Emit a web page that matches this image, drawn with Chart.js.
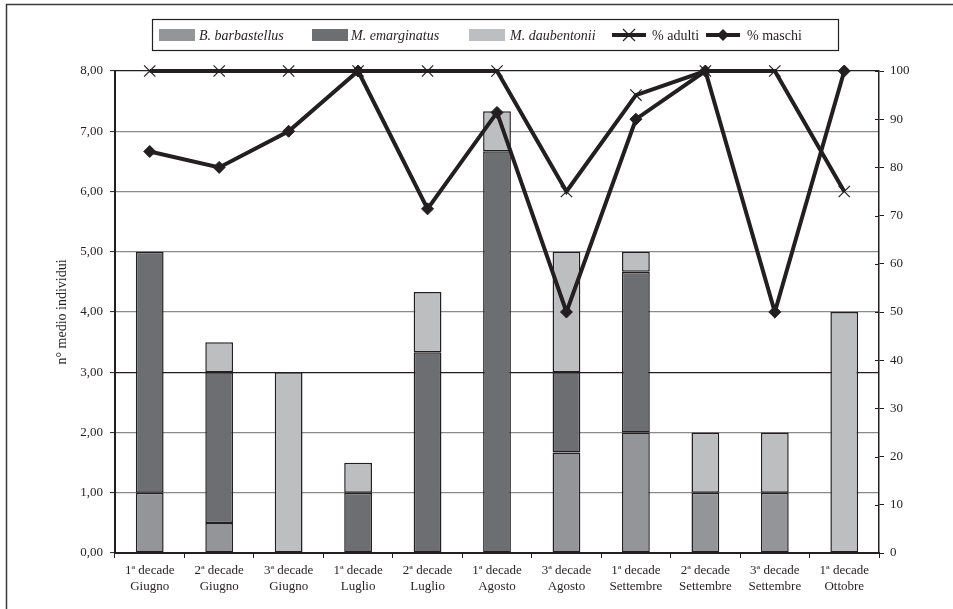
<!DOCTYPE html>
<html>
<head>
<meta charset="utf-8">
<script src="https://cdn.jsdelivr.net/npm/chart.js@4/dist/chart.umd.min.js"></script>
<style>
  html, body { margin: 0; padding: 0; background: #fff; }
  #wrap { width: 953px; height: 609px; position: relative; }
</style>
</head>
<body>
<div id="wrap"><canvas id="c" width="953" height="609"></canvas></div>
<script>
const categories = [
  ["1ª decade", "Giugno"], ["2ª decade", "Giugno"], ["3ª decade", "Giugno"],
  ["1ª decade", "Luglio"], ["2ª decade", "Luglio"], ["1ª decade", "Agosto"],
  ["3ª decade", "Agosto"], ["1ª decade", "Settembre"], ["2ª decade", "Settembre"],
  ["3ª decade", "Settembre"], ["1ª decade", "Ottobre"]
];
const barbastellus = [1, 0.5, null, null, null, null, 1.667, 2, 1, 1, null];
const emarginatus  = [4, 2.5, null, 1, 3.333, 6.667, 1.333, 2.667, null, null, null];
const daubentonii  = [null, 0.5, 3, 0.5, 1, 0.667, 2, 0.333, 1, 1, 4];
const pctAdulti = [100, 100, 100, 100, 100, 100, 75, 95, 100, 100, 75];
const pctMaschi = [83.3, 80, 87.5, 100, 71.4, 91.4, 50, 90, 100, 50, 100];
const leftTicks = [0, 1, 2, 3, 4, 5, 6, 7, 8];
const rightTicks = [0, 10, 20, 30, 40, 50, 60, 70, 80, 90, 100];
const seriesNames = ["B. barbastellus", "M. emarginatus", "M. daubentonii", "% adulti", "% maschi"];

const INK = '#231f20';
const COL_B = '#939598', COL_M = '#6d6e71', COL_D = '#bcbec0';
const FONT = '"Liberation Serif", "Times New Roman", serif';

const decorPlugin = {
  id: 'decor',
  beforeDraw(chart) {
    const ctx = chart.ctx;
    ctx.save();
    ctx.fillStyle = '#fff';
    ctx.fillRect(0, 0, chart.width, chart.height);
    ctx.strokeStyle = '#3a3a3a';
    ctx.lineWidth = 1.5;
    ctx.strokeRect(6.5, 4.5, 1200, 1200);
    ctx.restore();
  },
  afterDraw(chart) {
    const ctx = chart.ctx;
    ctx.save();
    // right axis inward tick marks
    const y1 = chart.scales.y1;
    ctx.strokeStyle = INK; ctx.lineWidth = 1;
    rightTicks.forEach(v => {
      const py = Math.round(y1.getPixelForValue(v)) + 0.5;
      ctx.beginPath(); ctx.moveTo(y1.left - 4, py); ctx.lineTo(y1.left, py); ctx.stroke();
    });
    // y-axis title
    const a = chart.chartArea;
    ctx.fillStyle = INK;
    ctx.font = '14px ' + FONT;
    ctx.textAlign = 'center'; ctx.textBaseline = 'middle';
    ctx.translate(62, (a.top + a.bottom) / 2);
    ctx.rotate(-Math.PI / 2);
    ctx.fillText('n° medio individui', 0, 0);
    ctx.setTransform(1, 0, 0, 1, 0, 0);
    ctx.restore();

    // legend
    ctx.save();
    ctx.strokeStyle = INK; ctx.lineWidth = 1.2;
    ctx.strokeRect(152.5, 19.5, 686, 31);
    const cy = 35;
    const swatches = [[159, COL_B, 199], [312, COL_M, 351], [469, COL_D, 510]];
    ctx.textBaseline = 'middle'; ctx.textAlign = 'left';
    swatches.forEach((s, i) => {
      ctx.fillStyle = s[1];
      ctx.fillRect(s[0], 29, 36, 12);
      ctx.fillStyle = INK;
      ctx.font = 'italic 14px ' + FONT;
      ctx.fillText(seriesNames[i], s[2], cy + 1);
    });
    const lines = [[612, 'x', 652, 3], [706, 'd', 747, 4]];
    lines.forEach(l => {
      ctx.strokeStyle = INK; ctx.lineWidth = 4;
      ctx.beginPath(); ctx.moveTo(l[0], cy); ctx.lineTo(l[0] + 34, cy); ctx.stroke();
      const mx = l[0] + 17;
      if (l[1] === 'x') {
        ctx.lineWidth = 1.2;
        ctx.beginPath();
        ctx.moveTo(mx - 6, cy - 6); ctx.lineTo(mx + 6, cy + 6);
        ctx.moveTo(mx - 6, cy + 6); ctx.lineTo(mx + 6, cy - 6);
        ctx.stroke();
      } else {
        ctx.fillStyle = INK;
        ctx.beginPath();
        ctx.moveTo(mx, cy - 6); ctx.lineTo(mx + 6, cy); ctx.lineTo(mx, cy + 6); ctx.lineTo(mx - 6, cy);
        ctx.closePath(); ctx.fill();
      }
      ctx.fillStyle = INK;
      ctx.font = '14px ' + FONT;
      ctx.fillText(seriesNames[l[3]], l[2], cy + 1);
    });
    ctx.restore();
  }
};

const barCommon = {
  type: 'bar', yAxisID: 'y', order: 2,
  borderColor: INK, borderWidth: 1.5, borderSkipped: false,
  categoryPercentage: 1.0, barPercentage: 0.4, stack: 's'
};

new Chart(document.getElementById('c'), {
  data: {
    labels: categories,
    datasets: [
      Object.assign({}, barCommon, { label: seriesNames[0], data: barbastellus, backgroundColor: COL_B }),
      Object.assign({}, barCommon, { label: seriesNames[1], data: emarginatus, backgroundColor: COL_M }),
      Object.assign({}, barCommon, { label: seriesNames[2], data: daubentonii, backgroundColor: COL_D }),
      {
        type: 'line', label: seriesNames[3], data: pctAdulti, yAxisID: 'y1', order: 0, clip: false,
        borderColor: INK, borderWidth: 4, tension: 0, fill: false,
        pointStyle: 'crossRot', pointRadius: 8, pointBorderWidth: 1.2,
        pointBorderColor: INK, pointBackgroundColor: INK
      },
      {
        type: 'line', label: seriesNames[4], data: pctMaschi, yAxisID: 'y1', order: 0, clip: false,
        borderColor: INK, borderWidth: 4, tension: 0, fill: false,
        pointStyle: 'rectRot', pointRadius: 6, pointBorderWidth: 1,
        pointBorderColor: INK, pointBackgroundColor: INK
      }
    ]
  },
  options: {
    responsive: false,
    animation: false,
    layout: { padding: { top: 71, left: 0, right: 0, bottom: 0 } },
    plugins: { legend: { display: false }, tooltip: { enabled: false } },
    scales: {
      x: {
        stacked: true,
        afterFit(s) { s.height = 56; },
        grid: { display: true, drawOnChartArea: false, offset: true, tickLength: 5, tickColor: INK, tickWidth: 1 },
        border: { color: INK, width: 2 },
        ticks: { color: INK, padding: 5, maxRotation: 0, autoSkip: false,
          font: { family: FONT, size: 13, lineHeight: 1.23 } }
      },
      y: {
        stacked: true, position: 'left', min: 0, max: 8,
        afterFit(s) { s.width = 115; },
        afterBuildTicks(s) { s.ticks = leftTicks.map(v => ({ value: v })); },
        grid: {
          color: ctx => (ctx.tick && (ctx.tick.value === 8 || ctx.tick.value === 3)) ? '#231f20' : '#8a8a8a',
          lineWidth: 1.2, tickLength: 5, tickColor: INK, tickWidth: 1
        },
        border: { color: INK, width: 2 },
        ticks: { color: INK, padding: 7, font: { family: FONT, size: 13 },
          callback: v => Number(v).toFixed(2).replace('.', ',') }
      },
      y1: {
        stacked: false, position: 'right', min: 0, max: 100,
        afterFit(s) { s.width = 74; },
        afterBuildTicks(s) { s.ticks = rightTicks.map(v => ({ value: v })); },
        grid: { drawOnChartArea: false, tickLength: 5, tickColor: INK, tickWidth: 1 },
        border: { color: INK, width: 1.5 },
        ticks: { color: INK, padding: 6, font: { family: FONT, size: 13 } }
      }
    }
  },
  plugins: [decorPlugin]
});
</script>
</body>
</html>
